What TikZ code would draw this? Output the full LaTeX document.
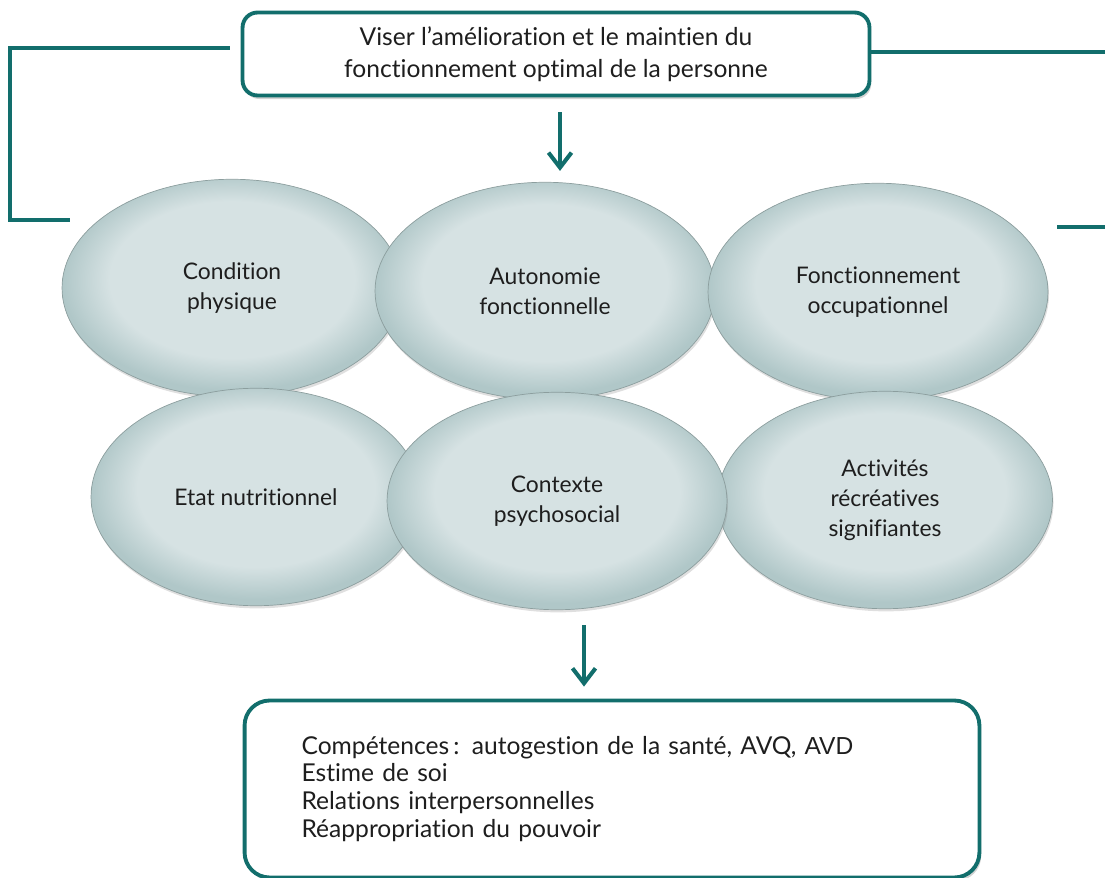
\documentclass[tikz,border=0pt]{standalone}
\usepackage{fontspec}
\setmainfont{Lato}[Ligatures={NoCommon}]
\newfontfamily\arialfont{Liberation Sans}
\usetikzlibrary{positioning,arrows.meta,shapes.geometric,shadows}
\definecolor{tealline}{RGB}{18,110,108}
\definecolor{ellin}{RGB}{214,226,227}
\definecolor{ellout}{RGB}{176,199,200}
\definecolor{ellrim}{RGB}{140,158,158}
\definecolor{ink}{RGB}{30,30,30}
\pgfdeclareradialshading{bubble}{\pgfpoint{0bp}{3bp}}{color(0bp)=(ellin);
  color(18bp)=(ellin); color(25bp)=(ellout); color(50bp)=(ellout)}

\begin{document}
\begin{tikzpicture}[x=0.02cm,y=-0.02cm,
  bub/.style={ellipse,draw=ellrim,line width=0.4pt,shading=bubble,
              minimum width=6.8cm,minimum height=4.35cm,align=center,
              font=\fontsize{13}{17}\selectfont,text=ink,
              drop shadow={opacity=0.25,shadow xshift=0.6pt,shadow yshift=-1.5pt}},
  goal/.style={draw=tealline,line width=2.2pt,rounded corners=0.3cm,fill=white,
               minimum width=12.54cm,minimum height=1.66cm,align=center,
               font=\fontsize{14}{18}\selectfont,text=ink,
               drop shadow={opacity=0.35,shadow xshift=1pt,shadow yshift=-2pt}},
  res/.style={draw=tealline,line width=2.2pt,rounded corners=0.5cm,fill=white,
              text width=12.42cm,inner xsep=1.14cm,minimum height=3.54cm,
              align=left,font=\fontsize{14}{15.9}\selectfont,text=ink,
              drop shadow={opacity=0.35,shadow xshift=1pt,shadow yshift=-2pt}},
  conn/.style={tealline,line width=2.3pt},
  arr/.style={-{Straight Barb[length=3mm,width=4.6mm]},tealline,line width=2.3pt}]
  \useasboundingbox (0,0) rectangle (1105,878);

  % objectif
  \node[goal] (goal) at (556,54) {Viser l’amélioration et le maintien du\\
    fonctionnement optimal de la personne};

  % les six dimensions
  \node[bub] (cond) at (232,288) {Condition\\physique};
  \node[bub] (auto) at (545,291) {Autonomie\\fonctionnelle};
  \node[bub] (fonc) at (878,292) {Fonctionnement\\occupationnel};
  \node[bub,minimum width=6.6cm] (etat) at (256,497) {Etat nutritionnel};
  \node[bub,minimum width=6.7cm] (act) at (885,500) {Activités\\récréatives\\signifiantes};
  \node[bub] (ctx) at (557,501) {Contexte\\psychosocial};

  % résultats
  \node[res] (bot) at (612,789) {Compétences\,: autogestion de la santé, AVQ, {\arialfont AVD}\\
    Estime de soi\\Relations interpersonnelles\\Réappropriation du pouvoir};

  % liens
  \coordinate (lBot) at (70,220);
  \coordinate (rTop) at (1105,52);
  \coordinate (rA) at (1057,227);
  \coordinate (rB) at (1105,227);
  \coordinate (aIn) at (584,625);
  \draw[conn] ([shift={(-11,-6)}]goal.west) -- ++(-220,0) |- (lBot);
  \draw[conn] (goal.east |- rTop) -- (rTop);
  \draw[conn] (rA) -- (rB);
  \draw[arr,shorten <=0.3cm,shorten >=0.22cm] ([xshift=0.08cm]goal.south) -- ([xshift=0.08cm]goal.south |- auto.north);
  \draw[arr,shorten >=0.24cm] (aIn) -- (aIn |- bot.north);
\end{tikzpicture}
\end{document}
